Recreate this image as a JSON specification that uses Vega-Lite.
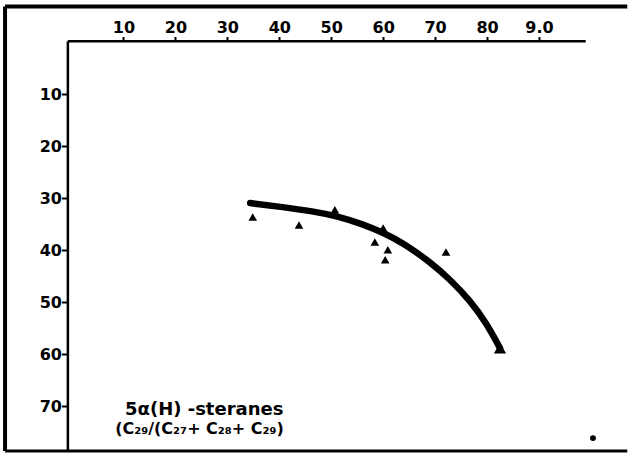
{
  "$schema": "https://vega.github.io/schema/vega-lite/v6.json",
  "width": 630,
  "height": 455,
  "autosize": "none",
  "padding": 0,
  "background": "white",
  "config": {"view": {"stroke": null, "fill": null}},
  "datasets": {
    "curve": [
      {"x": 34.4, "y": 30.9},
      {"x": 40.1, "y": 31.6},
      {"x": 46.6, "y": 32.5},
      {"x": 51.1, "y": 33.4},
      {"x": 56.2, "y": 35.0},
      {"x": 60.0, "y": 36.6},
      {"x": 63.9, "y": 38.6},
      {"x": 69.0, "y": 42.2},
      {"x": 72.9, "y": 45.6},
      {"x": 76.7, "y": 49.6},
      {"x": 79.9, "y": 54.0},
      {"x": 82.5, "y": 58.8}
    ],
    "samples": [
      {"x": 34.9, "y": 33.6},
      {"x": 43.8, "y": 35.1},
      {"x": 50.7, "y": 32.2},
      {"x": 60.0, "y": 35.7},
      {"x": 58.4, "y": 38.4},
      {"x": 60.9, "y": 39.9},
      {"x": 60.4, "y": 41.8},
      {"x": 72.1, "y": 40.3}
    ],
    "endpoint": [{"x": 82.5, "y": 58.8}],
    "stray": [{"x": 100.4, "y": 76.1}]
  },
  "layer": [
    {
      "data": {"name": "curve"},
      "mark": {"type": "line", "color": "black", "strokeWidth": 6.5, "interpolate": "basis", "strokeCap": "round"},
      "encoding": {
        "x": {
          "field": "x",
          "type": "quantitative",
          "scale": {"domain": [-13.77, 107.53], "nice": false, "zero": false},
          "axis": {
            "orient": "top",
            "offset": -41.5,
            "values": [10, 20, 30, 40, 50, 60, 70, 80, 90],
            "labelExpr": "datum.value == 90 ? '9.0' : datum.label",
            "domain": false,
            "grid": false,
            "ticks": true,
            "tickColor": "black",
            "tickSize": 5,
            "tickWidth": 2,
            "labelFont": "DejaVu Sans",
            "labelFontSize": 16,
            "labelFontWeight": "bold",
            "labelColor": "black",
            "labelPadding": 1,
            "title": null
          }
        },
        "y": {
          "field": "y",
          "type": "quantitative",
          "scale": {"domain": [-8.15, 79.35], "nice": false, "zero": false, "reverse": true},
          "axis": {
            "orient": "left",
            "offset": -67.5,
            "values": [10, 20, 30, 40, 50, 60, 70],
            "domain": false,
            "grid": false,
            "ticks": true,
            "tickColor": "black",
            "tickSize": 6,
            "tickWidth": 2,
            "labelFont": "DejaVu Sans",
            "labelFontSize": 16,
            "labelFontWeight": "bold",
            "labelColor": "black",
            "labelPadding": 0,
            "title": null
          }
        }
      }
    },
    {
      "data": {"name": "samples"},
      "mark": {"type": "point", "shape": "triangle-up", "filled": true, "color": "black", "opacity": 1, "size": 75},
      "encoding": {"x": {"field": "x", "type": "quantitative"}, "y": {"field": "y", "type": "quantitative"}}
    },
    {
      "data": {"name": "endpoint"},
      "mark": {"type": "point", "shape": "triangle-up", "filled": true, "color": "black", "opacity": 1, "size": 150},
      "encoding": {"x": {"field": "x", "type": "quantitative"}, "y": {"field": "y", "type": "quantitative"}}
    },
    {
      "data": {"name": "stray"},
      "mark": {"type": "point", "shape": "circle", "filled": true, "color": "black", "opacity": 1, "size": 35},
      "encoding": {"x": {"field": "x", "type": "quantitative"}, "y": {"field": "y", "type": "quantitative"}}
    },
    {
      "data": {"values": [{"a": 1}]},
      "mark": {"type": "rule", "color": "black", "strokeWidth": 4},
      "encoding": {
        "x": {"datum": -12.8, "type": "quantitative"},
        "y": {"datum": -6.9, "type": "quantitative"},
        "y2": {"datum": 78.6}
      }
    },
    {
      "data": {"values": [{"a": 1}]},
      "mark": {"type": "rule", "color": "black", "strokeWidth": 4},
      "encoding": {
        "y": {"datum": -6.9, "type": "quantitative"},
        "x": {"datum": -12.8, "type": "quantitative"},
        "x2": {"datum": 107.0}
      }
    },
    {
      "data": {"values": [{"a": 1}]},
      "mark": {"type": "rule", "color": "black", "strokeWidth": 3},
      "encoding": {
        "y": {"datum": 78.6, "type": "quantitative"},
        "x": {"datum": -12.8, "type": "quantitative"},
        "x2": {"datum": 107.0}
      }
    },
    {
      "data": {"values": [{"a": 1}]},
      "mark": {"type": "rule", "color": "black", "strokeWidth": 2.5},
      "encoding": {
        "x": {"datum": -0.7, "type": "quantitative"},
        "y": {"datum": -0.2, "type": "quantitative"},
        "y2": {"datum": 78.6}
      }
    },
    {
      "data": {"values": [{"a": 1}]},
      "mark": {"type": "rule", "color": "black", "strokeWidth": 2.5},
      "encoding": {
        "y": {"datum": -0.2, "type": "quantitative"},
        "x": {"datum": -0.7, "type": "quantitative"},
        "x2": {"datum": 99}
      }
    },
    {
      "data": {"values": [{"a": 1}]},
      "mark": {"type": "text", "text": "5α(H) -steranes", "align": "left", "baseline": "middle", "font": "DejaVu Sans", "fontSize": 18, "fontWeight": "bold", "color": "black"},
      "encoding": {
        "x": {"datum": 10.3, "type": "quantitative"},
        "y": {"datum": 70.6, "type": "quantitative"}
      }
    },
    {
      "data": {"values": [{"a": 1}]},
      "mark": {"type": "text", "text": "(C₂₉/(C₂₇+ C₂₈+ C₂₉)", "align": "left", "baseline": "middle", "font": "DejaVu Sans", "fontSize": 16, "fontWeight": "bold", "color": "black"},
      "encoding": {
        "x": {"datum": 8.4, "type": "quantitative"},
        "y": {"datum": 74.3, "type": "quantitative"}
      }
    }
  ]
}
